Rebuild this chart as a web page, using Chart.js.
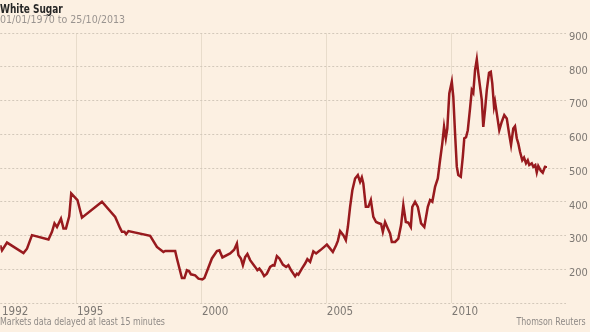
<!DOCTYPE html>
<html lang="en">
<head>
<meta charset="UTF-8" />
<title>White Sugar</title>
<script src="https://cdn.jsdelivr.net/npm/chart.js@4.4.1/dist/chart.umd.min.js"></script>
<style>
  body { margin: 0; background: #fcf0e2; font-family: "Liberation Sans Narrow", "DejaVu Sans Condensed", sans-serif; }
  #wrap { position: relative; width: 590px; height: 332px; overflow: hidden; }
  #chart { position: absolute; left: 0; top: 0; }
  .txt { position: absolute; white-space: nowrap; }
  #title { left: 0; top: 1px; font-size: 12.5px; font-weight: bold; color: #262626; transform: scaleX(0.8); transform-origin: left top; }
  #sub { left: 0; top: 13px; font-size: 11px; color: #9a9490; transform: scaleX(0.96); transform-origin: left top; }
  #note { left: 0; top: 316px; font-size: 10px; color: #8f8a86; transform: scaleX(0.88); transform-origin: left top; }
  #src { right: 4px; top: 316px; font-size: 10px; color: #8f8a86; transform: scaleX(0.88); transform-origin: right top; }
</style>
</head>
<body>
<div id="wrap">
  <canvas id="chart" width="590" height="332"></canvas>
  <div class="txt" id="title">White Sugar</div>
  <div class="txt" id="sub">01/01/1970 to 25/10/2013</div>
  <div class="txt" id="note">Markets data delayed at least 15 minutes</div>
  <div class="txt" id="src">Thomson Reuters</div>
</div>
<script>
// dates as decimal years, prices
const years = [
  1991.93, 1992.0, 1992.2, 1992.86, 1993.0, 1993.2, 1993.86, 1994.0, 1994.1, 1994.2,
  1994.36, 1994.46, 1994.56, 1994.69, 1994.77, 1995.02, 1995.2, 1996.0, 1996.53, 1996.73,
  1996.8, 1996.9, 1996.97, 1997.06, 1997.93, 1998.2, 1998.46, 1998.53, 1998.93, 1999.0,
  1999.2, 1999.3, 1999.4, 1999.49, 1999.56, 1999.73, 1999.86, 2000.02, 2000.1, 2000.4,
  2000.6, 2000.7, 2000.82, 2001.13, 2001.29, 2001.4, 2001.46, 2001.56, 2001.64, 2001.73,
  2001.82, 2001.93, 2002.13, 2002.22, 2002.3, 2002.4, 2002.49, 2002.6, 2002.73, 2002.84,
  2002.9, 2003.0, 2003.1, 2003.24, 2003.37, 2003.46, 2003.57, 2003.73, 2003.8, 2003.86,
  2004.0, 2004.13, 2004.22, 2004.33, 2004.46, 2004.57, 2004.73, 2004.86, 2005.0, 2005.1,
  2005.24, 2005.37, 2005.44, 2005.53, 2005.66, 2005.76, 2005.84, 2005.93, 2006.02, 2006.13,
  2006.24, 2006.33, 2006.4, 2006.46, 2006.56, 2006.66, 2006.76, 2006.86, 2006.97, 2007.06,
  2007.17, 2007.24, 2007.33, 2007.44, 2007.53, 2007.6, 2007.73, 2007.86, 2007.97, 2008.06,
  2008.16, 2008.26, 2008.36, 2008.42, 2008.53, 2008.64, 2008.77, 2008.9, 2009.04, 2009.13,
  2009.22, 2009.33, 2009.44, 2009.53, 2009.62, 2009.69, 2009.76, 2009.82, 2009.9, 2010.0,
  2010.06, 2010.13, 2010.2, 2010.26, 2010.36, 2010.44, 2010.5, 2010.57, 2010.64, 2010.73,
  2010.8, 2010.86, 2010.93, 2011.0, 2011.06, 2011.13, 2011.2, 2011.26, 2011.33, 2011.4,
  2011.49, 2011.56, 2011.62, 2011.69, 2011.73, 2011.8, 2011.9, 2012.0, 2012.1, 2012.2,
  2012.29, 2012.37, 2012.46, 2012.53, 2012.6, 2012.66, 2012.73, 2012.82, 2012.89, 2012.97,
  2013.04, 2013.1, 2013.2, 2013.26, 2013.34, 2013.4, 2013.46, 2013.56, 2013.64, 2013.73,
  2013.76
];
const prices = [
  271, 256, 279, 248, 261, 301, 288, 311, 336, 325,
  350, 321, 321, 357, 425, 405, 353, 400, 355, 321,
  311, 311, 304, 313, 299, 266, 251, 254, 254, 232,
  174, 174, 197, 194, 185, 182, 172, 170, 174, 232,
  254, 256, 235, 247, 258, 276, 242, 232, 212, 236,
  245, 227, 207, 197, 202, 192, 180, 187, 207, 212,
  211, 239, 232, 214, 207, 212, 197, 179, 187, 184,
  202, 217, 230, 222, 253, 247, 256, 264, 273, 264,
  251, 271, 284, 313, 301, 286, 325, 385, 434, 469,
  479, 459, 472, 454, 385, 385, 405, 355, 340, 337,
  334, 311, 340, 321, 306, 281, 281, 291, 331, 390,
  340, 338, 325, 385, 400, 385, 336, 325, 385, 405,
  400, 444, 469, 523, 573, 622, 588, 617, 721, 756,
  711, 603, 504, 479, 474, 533, 588, 591, 612, 677,
  731, 723, 790, 822, 781, 741, 701, 622, 672, 731,
  782, 785, 751, 682, 696, 662, 612, 637, 657, 647,
  603, 568, 617, 624, 588, 573, 548, 523, 531, 514,
  523, 509, 514, 504, 509, 487, 506, 492, 486, 504,
  506
];
const xTicks = [1992, 1995, 2000, 2005, 2010];
const yTicks = [100, 200, 300, 400, 500, 600, 700, 800, 900];

const points = years.map((y, i) => ({ x: y, y: prices[i] }));
const FONT = "'Liberation Sans Narrow', 'DejaVu Sans Condensed', sans-serif";

new Chart(document.getElementById('chart'), {
  type: 'line',
  data: {
    datasets: [{
      data: points,
      borderColor: '#981a1e',
      borderWidth: 2.5,
      pointRadius: 0,
      tension: 0
    }]
  },
  options: {
    responsive: false,
    animation: false,
    layout: { padding: { top: 33, bottom: 13, left: 0, right: 0 } },
    plugins: { legend: { display: false }, tooltip: { enabled: false } },
    scales: {
      x: {
        type: 'linear',
        min: 1991.93,
        max: 2014.57,
        afterBuildTicks: s => { s.ticks = xTicks.map(v => ({ value: v })); },
        afterFit: s => { s.height = 16; },
        ticks: {
          align: 'start',
          autoSkip: false,
          maxRotation: 0,
          padding: 2,
          color: '#7d7873',
          font: { family: FONT, size: 11.5 },
          callback: v => String(v)
        },
        grid: {
          drawTicks: false,
          color: c => (c.tick && c.tick.value === 1992) ? 'rgba(0,0,0,0)' : '#e8dccb'
        },
        border: { display: false }
      },
      y: {
        position: 'right',
        min: 100,
        max: 900,
        afterBuildTicks: s => { s.ticks = yTicks.map(v => ({ value: v })); },
        afterFit: s => { s.width = 24; },
        ticks: {
          padding: 3,
          labelOffset: 4,
          color: '#7d7873',
          font: { family: FONT, size: 11 },
          callback: v => v === 100 ? '' : String(v)
        },
        grid: { drawTicks: false, color: '#d3c8ba' },
        border: { display: false, dash: [2, 2] }
      }
    }
  }
});
</script>
</body>
</html>
